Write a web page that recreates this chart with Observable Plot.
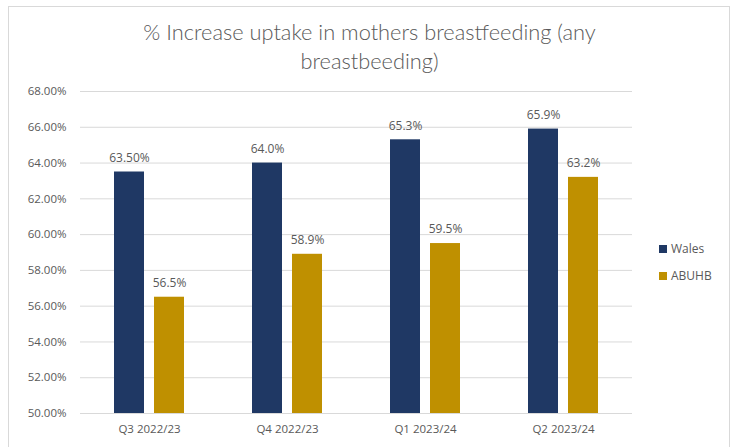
<!DOCTYPE html>
<html>
<head>
<meta charset="utf-8">
<script src="https://cdn.jsdelivr.net/npm/d3@7"></script>
<script src="https://cdn.jsdelivr.net/npm/@observablehq/plot@0.6"></script>
<style>
  html, body { margin: 0; padding: 0; background: #fff; }
  #wrap { position: relative; width: 737px; height: 447px; overflow: hidden; font-family: "Open Sans", sans-serif; }
  #frame { position: absolute; left: 8px; top: 6px; width: 722px; height: 460px; border: 1px solid #d9d9d9; box-sizing: border-box; }
  #title { position: absolute; left: 8px; width: 723px; top: 17px; text-align: center; font-family: Lato, sans-serif; font-weight: 300; font-size: 21.8px; line-height: 29px; color: #595959; }
  #chart { position: absolute; left: 0; top: 0; }
  .leg { position: absolute; left: 659px; font-size: 12px; color: #595959; display: flex; align-items: center; }
  .leg span.sw { display: inline-block; width: 8px; height: 8px; margin-right: 4px; }
</style>
</head>
<body>
<div id="wrap">
  <div id="frame"></div>
  <div id="chart"></div>
  <div id="title">% Increase uptake in mothers breastfeeding (any<br>breastbeeding)</div>
  <div id="legend"></div>
</div>
<script>
const quarters = ["Q3 2022/23", "Q4 2022/23", "Q1 2023/24", "Q2 2023/24"];
const series = ["Wales", "ABUHB"];
const walesValues = [63.5, 64.0, 65.3, 65.9];
const abuhbValues = [56.5, 58.9, 59.5, 63.2];
const walesLabels = ["63.50%", "64.0%", "65.3%", "65.9%"];
const abuhbLabels = ["56.5%", "58.9%", "59.5%", "63.2%"];
const yTicks = [50, 52, 54, 56, 58, 60, 62, 64, 66, 68];
const colors = ["#1f3864", "#bf9000"];

const data = [];
quarters.forEach((q, i) => {
  data.push({quarter: q, series: "Wales", value: walesValues[i], label: walesLabels[i]});
  data.push({quarter: q, series: "ABUHB", value: abuhbValues[i], label: abuhbLabels[i]});
});

const chart = Plot.plot({
  width: 737,
  height: 447,
  marginTop: 91,
  marginBottom: 34,
  marginLeft: 78,
  marginRight: 104,
  style: {fontFamily: "'Open Sans', sans-serif", fontSize: "11.5px", color: "#595959", background: "transparent"},
  fx: {domain: quarters, padding: 0, label: null, tickSize: 0, tickPadding: 11, axis: "bottom"},
  x: {domain: series, axis: null, paddingInner: 0.244, paddingOuter: 0.814},
  y: {domain: [50, 68], ticks: yTicks, tickFormat: d => d.toFixed(2) + "%", tickSize: 0, tickPadding: 14, label: null},
  color: {domain: series, range: colors},
  marks: [
    Plot.ruleY(yTicks, {stroke: "#d9d9d9", strokeWidth: 1}),
    Plot.barY(data, {fx: "quarter", x: "series", y1: 50, y2: "value", fill: "series"}),
    Plot.text(data, {fx: "quarter", x: "series", y: "value", text: "label", dy: -14, fill: "#595959", fontSize: 12})
  ]
});
document.getElementById("chart").appendChild(chart);

const legend = document.getElementById("legend");
series.forEach((s, i) => {
  const d = document.createElement("div");
  d.className = "leg";
  d.style.top = (240 + i * 27) + "px";
  d.innerHTML = `<span class="sw" style="background:${colors[i]}"></span>${s}`;
  legend.appendChild(d);
});
</script>
</body>
</html>
